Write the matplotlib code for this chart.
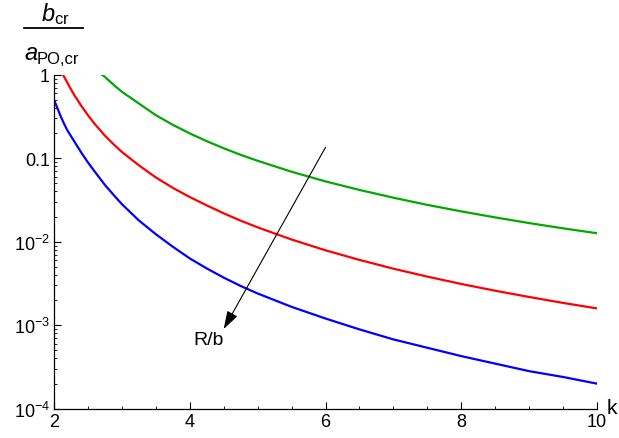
import numpy as np
import matplotlib
matplotlib.use('Agg')
from matplotlib import pyplot as plt
from matplotlib.ticker import FixedLocator, NullFormatter

plt.rcParams['font.family'] = ['Liberation Sans', 'DejaVu Sans']
plt.rcParams['mathtext.fontset'] = 'custom'
plt.rcParams['mathtext.rm'] = 'Liberation Sans'
plt.rcParams['mathtext.it'] = 'Liberation Sans:italic'

# values (stored as log10 of the y value)
kBlue = [2.0, 2.05, 2.1, 2.15, 2.2, 2.3, 2.4, 2.5, 2.6, 2.75, 2.9, 3.0, 3.25,
         3.5, 3.75, 4.0, 4.25, 4.5, 4.75, 5.0, 5.5, 6.0, 6.5, 7.0, 7.5, 8.0,
         8.5, 9.0, 9.5, 10.0]
blueLog = [-0.30, -0.40, -0.50, -0.59, -0.67, -0.80, -0.93, -1.05, -1.16,
           -1.32, -1.46, -1.55, -1.745, -1.91, -2.06, -2.20, -2.32, -2.43,
           -2.53, -2.62, -2.78, -2.92, -3.05, -3.17, -3.27, -3.37, -3.46,
           -3.55, -3.62, -3.70]

kRed = [2.13, 2.16, 2.2, 2.25, 2.3, 2.4, 2.5, 2.6, 2.75, 2.9, 3.0, 3.25, 3.5,
        3.75, 4.0, 4.25, 4.5, 4.75, 5.0, 5.5, 6.0, 6.5, 7.0, 7.5, 8.0, 8.5,
        9.0, 9.5, 10.0]
redLog = [0.0, -0.04, -0.10, -0.175, -0.245, -0.37, -0.485, -0.59, -0.73,
          -0.85, -0.925, -1.085, -1.23, -1.355, -1.465, -1.565, -1.66, -1.748,
          -1.828, -1.974, -2.103, -2.218, -2.323, -2.418, -2.506, -2.587,
          -2.662, -2.733, -2.799]

kGreen = [2.707, 2.75, 2.8, 2.9, 3.0, 3.25, 3.5, 3.75, 4.0, 4.25, 4.5, 4.75,
          5.0, 5.5, 6.0, 6.5, 7.0, 7.5, 8.0, 8.5, 9.0, 9.5, 10.0]
greenLog = [0.0, -0.026, -0.064, -0.137, -0.204, -0.345, -0.485, -0.600,
            -0.703, -0.796, -0.881, -0.960, -1.031, -1.162, -1.278, -1.380,
            -1.473, -1.559, -1.637, -1.709, -1.777, -1.840, -1.899]

arrowStart = (6.0, 0.135)
arrowEnd = (4.5, 9.0e-4)

yTicks = [1e-4, 1e-3, 1e-2, 0.1, 1]
yTickLabels = ['$10^{-4}$', '$10^{-3}$', '$10^{-2}$', '0.1', '1']
xTicks = [2, 4, 6, 8, 10]

fig = plt.figure(figsize=(6.19, 4.39), dpi=100)
ax = fig.add_axes([0.0872, 0.0667, 0.8773, 0.7609])

ax.plot(kBlue, 10 ** np.array(blueLog), color='#0000FF', lw=1.6)
ax.plot(kRed, 10 ** np.array(redLog), color='#FF0000', lw=1.6)
ax.plot(kGreen, 10 ** np.array(greenLog), color='#00A800', lw=1.6)

ax.set_yscale('log')
ax.set_xlim(2, 10)
ax.set_ylim(1e-4, 1)

ax.spines['top'].set_visible(False)
ax.spines['right'].set_visible(False)
for side in ['left', 'bottom']:
    ax.spines[side].set_linewidth(0.9)

ax.set_xticks(xTicks)
ax.set_xticklabels([str(t) for t in xTicks])
ax.xaxis.set_minor_locator(FixedLocator(np.arange(2, 10.01, 0.5)))
ax.set_yticks(yTicks)
ax.set_yticklabels(yTickLabels)
minorY = [m * 10.0 ** e for e in range(-4, 0) for m in range(2, 10)]
ax.yaxis.set_minor_locator(FixedLocator(minorY))
ax.yaxis.set_minor_formatter(NullFormatter())

ax.tick_params(axis='both', which='major', direction='in', length=5,
               width=0.8, labelsize=13, pad=3)
ax.tick_params(axis='both', which='minor', direction='in', length=2.5,
               width=0.6)

# arrow and label
ax.annotate('', xy=arrowEnd, xytext=arrowStart,
            arrowprops=dict(arrowstyle='-|>,head_length=1.1,head_width=0.35',
                            color='black', lw=0.8, shrinkA=0, shrinkB=0))
ax.text(4.27, 6.8e-4, 'R/b', fontsize=14, ha='center', va='center')

# axis labels
fig.text(612 / 619, 1 - 409 / 439, 'k', fontsize=15, ha='center', va='center')
fig.text(55 / 619, 1 - 14 / 439, r'$b_{\mathrm{cr}}$', fontsize=17,
         ha='center', va='center')
fig.add_artist(plt.Line2D([24 / 619, 83 / 619], [1 - 29 / 439, 1 - 29 / 439],
                          color='black', lw=1.3))
fig.text(24 / 619, 1 - 60 / 439, 'a', fontsize=17, style='italic',
         ha='left', va='baseline')
fig.text(37 / 619, 1 - 64 / 439, 'PO,cr', fontsize=12, ha='left',
         va='baseline')

fig.savefig('out.png', dpi=100)
